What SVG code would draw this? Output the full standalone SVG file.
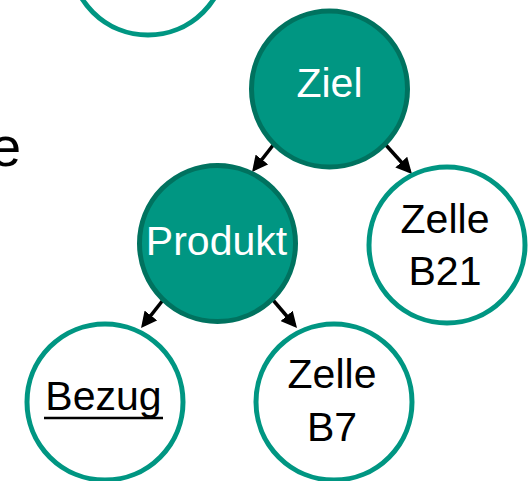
<svg xmlns="http://www.w3.org/2000/svg" width="529" height="481" viewBox="0 0 529 481">
<style>
  .filled { fill: #009682; stroke: #00725F; stroke-width: 5; }
  .open { fill: #FFFFFF; stroke: #009682; stroke-width: 5; }
  .lbl { font-family: "Liberation Sans", Arial, sans-serif; font-size: 41px; text-anchor: middle; }
  .w { fill: #FFFFFF; }
  .k { fill: #000000; }
  .conn { stroke: #000000; stroke-width: 3.5; fill: none; marker-end: url(#arrow); }
</style>
<defs>
  <marker id="arrow" markerUnits="userSpaceOnUse" markerWidth="16" markerHeight="16" refX="12" refY="8" orient="auto">
    <path d="M0,0 L16,8 L0,16 z" fill="#000000"/>
  </marker>
</defs>
<rect width="529" height="481" fill="#FFFFFF"/>
<text x="-10" y="166" font-family="Liberation Sans, Arial, sans-serif" font-size="56" fill="#000000">e</text>
<g id="node-top">
  <circle class="open" cx="148" cy="-43" r="78"/>
</g>
<g id="connectors">
  <line class="conn" x1="274" y1="144" x2="254.5" y2="168.9"/>
  <line class="conn" x1="385" y1="144" x2="409.3" y2="171"/>
  <line class="conn" x1="163" y1="300" x2="143.5" y2="324.9"/>
  <line class="conn" x1="273" y1="300" x2="294.4" y2="325"/>
</g>
<g id="node-ziel">
  <circle class="filled" cx="329.5" cy="89" r="78"/>
  <text class="lbl w" x="329.5" y="97">Ziel</text>
</g>
<g id="node-produkt">
  <circle class="filled" cx="217.5" cy="243.5" r="78"/>
  <text class="lbl w" x="216.5" y="255">Produkt</text>
</g>
<g id="node-b21">
  <circle class="open" cx="447" cy="245" r="78"/>
  <text class="lbl k" x="445" y="233">Zelle</text>
  <text class="lbl k" x="445" y="285">B21</text>
</g>
<g id="node-bezug">
  <circle class="open" cx="105" cy="402" r="78"/>
  <text class="lbl k" x="103.5" y="410">Bezug</text>
  <line x1="44" y1="418" x2="163" y2="418" stroke="#000000" stroke-width="2.5"/>
</g>
<g id="node-b7">
  <circle class="open" cx="334" cy="402" r="78"/>
  <text class="lbl k" x="332" y="388">Zelle</text>
  <text class="lbl k" x="332" y="441">B7</text>
</g>
</svg>
